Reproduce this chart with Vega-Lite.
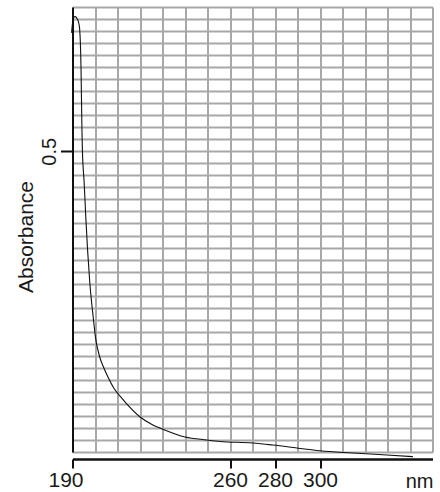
{
  "$schema": "https://vega.github.io/schema/vega-lite/v6.json",
  "autosize": "none",
  "padding": {"left": 72.5, "top": 7, "right": 7.5, "bottom": 40},
  "width": 360,
  "height": 445,
  "background": "white",
  "config": {
    "view": {"stroke": null},
    "font": "Liberation Sans",
    "axis": {"labelFont": "Liberation Sans", "titleFont": "Liberation Sans", "labelColor": "#1a1a1a", "titleColor": "#1a1a1a", "titleFontWeight": "normal"}
  },
  "data": {
    "values": [
      {"nm": 189.6, "A": 0.697},
      {"nm": 190.0, "A": 0.713},
      {"nm": 190.5, "A": 0.723},
      {"nm": 191.2, "A": 0.724},
      {"nm": 192.0, "A": 0.721},
      {"nm": 192.8, "A": 0.713},
      {"nm": 193.2, "A": 0.702},
      {"nm": 193.5, "A": 0.680},
      {"nm": 193.8, "A": 0.635},
      {"nm": 194.0, "A": 0.585},
      {"nm": 194.2, "A": 0.535},
      {"nm": 194.4, "A": 0.502},
      {"nm": 195.2, "A": 0.447},
      {"nm": 195.9, "A": 0.391},
      {"nm": 196.7, "A": 0.336},
      {"nm": 197.7, "A": 0.281},
      {"nm": 199.2, "A": 0.2245},
      {"nm": 200.2, "A": 0.191},
      {"nm": 202.1, "A": 0.158},
      {"nm": 203.9, "A": 0.140},
      {"nm": 205.7, "A": 0.125},
      {"nm": 208.4, "A": 0.106},
      {"nm": 211.8, "A": 0.090},
      {"nm": 214.6, "A": 0.078},
      {"nm": 219.9, "A": 0.0587},
      {"nm": 225.7, "A": 0.045},
      {"nm": 230.1, "A": 0.038},
      {"nm": 240.0, "A": 0.025},
      {"nm": 249.7, "A": 0.020},
      {"nm": 255.5, "A": 0.0175},
      {"nm": 270.1, "A": 0.015},
      {"nm": 279.0, "A": 0.0116},
      {"nm": 289.7, "A": 0.0067},
      {"nm": 299.9, "A": 0.002},
      {"nm": 314.6, "A": -0.0017},
      {"nm": 329.7, "A": -0.005},
      {"nm": 341.3, "A": -0.0078}
    ]
  },
  "mark": {"type": "line", "color": "#111", "strokeWidth": 1.1, "interpolate": "monotone"},
  "encoding": {
    "x": {
      "field": "nm",
      "type": "quantitative",
      "scale": {"domain": [190, 350], "nice": false, "zero": false},
      "axis": {
        "values": [190, 200, 210, 220, 230, 240, 250, 260, 270, 280, 290, 300, 310, 320, 330, 340, 350],
        "labelExpr": "(datum.value == 190 || datum.value == 260 || datum.value == 280 || datum.value == 300) ? datum.label : ''",
        "labelFontSize": 21,
        "labelBaseline": "alphabetic",
        "labelAlign": "center",
        "labelPadding": 18,
        "labelOffset": {"condition": {"test": "datum.value == 190", "value": -7}, "value": 0},
        "labelFlush": false,
        "labelOverlap": false,
        "tickSize": 9,
        "tickWidth": 2,
        "tickColor": "#111",
        "tickOpacity": {"condition": {"test": "datum.value == 190 || datum.value == 260 || datum.value == 280 || datum.value == 300", "value": 1}, "value": 0},
        "domainColor": "#111",
        "domainWidth": 2.5,
        "offset": 7,
        "grid": true,
        "gridColor": "#a8a8ab",
        "gridWidth": 2,
        "gridOpacity": 1,
        "title": "nm",
        "titleFontSize": 20,
        "titleAnchor": "end",
        "titleAlign": "right",
        "titleBaseline": "alphabetic",
        "titleX": 360.5,
        "titleY": 28
      }
    },
    "y": {
      "field": "A",
      "type": "quantitative",
      "scale": {"domain": [0, 0.74], "nice": false, "zero": false},
      "axis": {
        "values": [0, 0.02, 0.04, 0.06, 0.08, 0.1, 0.12, 0.14, 0.16, 0.18, 0.2, 0.22, 0.24, 0.26, 0.28, 0.3, 0.32, 0.34, 0.36, 0.38, 0.4, 0.42, 0.44, 0.46, 0.48, 0.5, 0.52, 0.54, 0.56, 0.58, 0.6, 0.62, 0.64, 0.66, 0.68, 0.7, 0.72, 0.74],
        "labelExpr": "datum.value == 0.5 ? '0.5' : ''",
        "labelFontSize": 20,
        "labelAngle": 270,
        "labelAlign": "center",
        "labelBaseline": "alphabetic",
        "labelPadding": 5.5,
        "labelOverlap": false,
        "labelFlush": false,
        "tickSize": 12,
        "tickWidth": 2,
        "tickColor": "#111",
        "tickOpacity": {"condition": {"test": "datum.value == 0.5", "value": 1}, "value": 0},
        "domainColor": "#111",
        "domainWidth": 2,
        "grid": true,
        "gridColor": "#a8a8ab",
        "gridWidth": 2,
        "gridOpacity": 1,
        "title": "Absorbance",
        "titleFontSize": 21,
        "titleAngle": 270,
        "titleAlign": "center",
        "titleBaseline": "alphabetic",
        "titleX": -39.7,
        "titleY": 229.5
      }
    }
  }
}
